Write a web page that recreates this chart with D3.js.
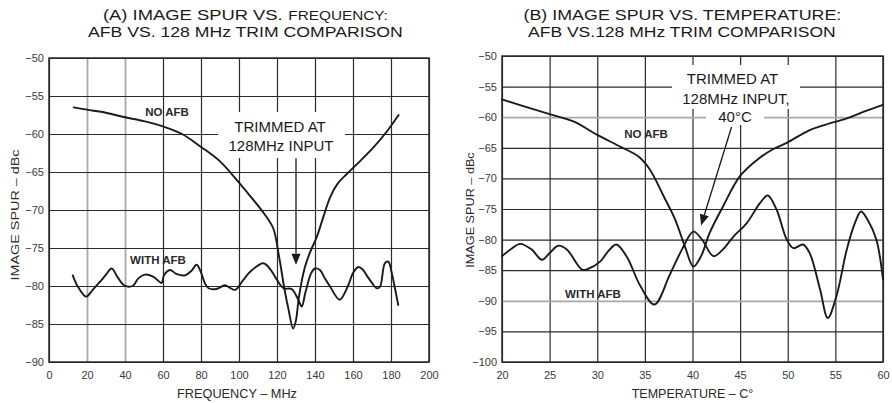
<!DOCTYPE html>
<html><head><meta charset="utf-8">
<script src="https://cdn.jsdelivr.net/npm/d3@7"></script>
<style>
html,body{margin:0;padding:0;background:#fff;}
svg{display:block;font-family:"Liberation Sans",Arial,Helvetica,sans-serif;}
</style></head>
<body>
<svg id="c" width="892" height="403"></svg>
<script>
// ---------- DATA ----------
// Chart A: image spur vs frequency (MHz, dBc)
const freqNoAfb = [[13,-56.5],[20,-56.8],[30,-57.2],[40,-57.8],[50,-58.3],[60,-59.0],[70,-60.0],[80,-61.7],[90,-63.6],[100,-66.4],[106,-68.2],[113,-70.4],[118,-72.4],[121,-76.0],[124,-80.5],[126,-83.0],[128.5,-85.6],[130,-84.5],[131.5,-81.5],[134.7,-77.5],[137.5,-75.5],[141,-73.5],[144.4,-70.9],[148,-68.3],[152,-66.5],[157,-65.2],[164,-63.5],[171,-61.7],[178,-59.6],[184,-57.5]];
const freqWithAfb = [[12.5,-78.6],[15,-80.0],[19.5,-81.4],[23,-80.5],[27,-79.4],[30,-78.5],[33,-77.7],[36,-78.8],[39.5,-79.9],[44,-80.0],[47,-79.0],[50.5,-78.5],[55,-78.8],[59.3,-79.6],[60.5,-78.6],[63.7,-77.9],[67,-78.4],[71.6,-78.6],[75,-78.0],[77.7,-77.2],[80,-78.2],[82,-79.6],[84,-80.3],[88,-80.4],[92.6,-79.9],[95,-80.2],[98,-80.5],[102,-79.3],[106,-78.1],[112.8,-77.0],[116.5,-77.8],[120,-79.2],[123.5,-80.3],[127.7,-80.4],[131.2,-81.8],[133,-82.7],[135,-80.8],[138,-78.3],[140,-77.7],[142.6,-77.9],[145,-78.9],[148,-80.1],[153,-81.8],[157.5,-79.9],[160,-78.3],[162.8,-77.5],[165,-77.8],[167.2,-78.6],[170,-79.6],[172.5,-80.3],[174.2,-80.1],[176.8,-77.0],[178.6,-76.8],[180.4,-78.3],[182,-80.2],[183.8,-82.5]];
const freqTicks = [0,20,40,60,80,100,120,140,160,180,200];
const freqGrayTicks = [20,40];
const spurTicksA = [-50,-55,-60,-65,-70,-75,-80,-85,-90];

// Chart B: image spur vs temperature (°C, dBc)
const tempNoAfb = [[20,-57.1],[22.5,-58.3],[25,-59.5],[27.5,-60.7],[30,-62.9],[32.4,-64.8],[34.3,-66.4],[35.5,-68.5],[37,-73.0],[38.2,-76.8],[39.2,-81.1],[40.1,-84.4],[40.9,-82.7],[41.8,-78.9],[43.2,-74.6],[45,-69.6],[47,-66.7],[48.5,-65.2],[49.9,-64.2],[52.3,-62.1],[54,-61.2],[56.2,-60.2],[58,-59.1],[60,-58.0]];
const tempWithAfb = [[20,-82.7],[21,-81.5],[21.9,-80.7],[23.1,-81.6],[24.2,-83.3],[25,-82.2],[25.9,-81.0],[26.8,-81.6],[28.4,-84.9],[29,-84.8],[30.3,-83.6],[31,-82.2],[32,-80.8],[33.1,-82.8],[34.5,-87.5],[36,-90.6],[37.6,-85.8],[38.9,-81.6],[40.1,-78.7],[41,-80.0],[42.2,-82.7],[43.2,-81.6],[44.3,-79.5],[45.7,-77.3],[47.1,-74.0],[47.9,-72.8],[48.8,-75.0],[49.9,-80.0],[50.6,-81.4],[51.6,-80.8],[52.3,-82.2],[53.4,-88.2],[54.2,-92.8],[55.1,-89.3],[56.2,-81.6],[57,-77.5],[57.7,-75.4],[58.4,-76.8],[59.3,-80.0],[60,-86.5]];
const tempTicks = [20,25,30,35,40,45,50,55,60];
const spurTicksB = [-50,-55,-60,-65,-70,-75,-80,-85,-90,-95,-100];
const spurGrayTicksB = [-60,-90];

// Text
const titleA1 = "(A) IMAGE SPUR VS.", titleA1b = "FREQUENCY:";
const titleA2 = "AFB VS. 128 MHz TRIM COMPARISON";
const titleB1 = "(B) IMAGE SPUR VS. TEMPERATURE:";
const titleB2 = "AFB VS.128 MHz TRIM COMPARISON";
const yTitle = "IMAGE SPUR – dBc";
const xTitleA = "FREQUENCY – MHz";
const xTitleB = "TEMPERATURE – C°";
const noteA = ["TRIMMED AT","128MHz INPUT"];
const noteB = ["TRIMMED AT","128MHz INPUT,","40°C"];
const arrowA = [[130,-63.2],[130,-77.2]];
const arrowB = [[44.1,-61.6],[40.9,-77.7]];

// ---------- DRAW ----------
const svg = d3.select("#c");
const DARK = "#2a2a2a", GRAY = "#a8a8a8", INK = "#1a1a1a", LBL = "#3a3a3a";

function bw(sel){ return sel.node().getBBox().width; }

function panel(o){
  const g = svg.append("g");
  const x = d3.scaleLinear().domain(o.xDom).range([o.x0, o.x1]);
  const y = d3.scaleLinear().domain(o.yDom).range([o.y1, o.y0]);
  const W = o.x1 - o.x0, H = o.y1 - o.y0;

  g.append("rect").attr("x",o.x0).attr("y",o.y0).attr("width",W).attr("height",H).attr("fill","#fff");

  const ax = g.append("g").attr("transform",`translate(0,${o.y1})`)
    .call(d3.axisBottom(x).tickValues(o.xTicks).tickSize(-H).tickPadding(9).tickFormat(d3.format("d")));
  const ay = g.append("g").attr("transform",`translate(${o.x0},0)`)
    .call(d3.axisLeft(y).tickValues(o.yTicks).tickSize(-W).tickPadding(5).tickFormat(d3.format("d")));
  [ax,ay].forEach(a=>{
    a.select(".domain").remove();
    a.selectAll("text").attr("fill",LBL).style("font-size","11px").style("font-family",'"Liberation Sans",Arial,sans-serif');
  });
  ax.selectAll(".tick line").attr("stroke",d=>o.xGray.includes(d)?GRAY:DARK).attr("stroke-width",d=>o.xGray.includes(d)?1.8:1.2);
  ay.selectAll(".tick line").attr("stroke",d=>o.yGray.includes(d)?GRAY:DARK).attr("stroke-width",d=>o.yGray.includes(d)?1.8:1.2);

  g.append("rect").attr("x",o.x0).attr("y",o.y0).attr("width",W).attr("height",H)
    .attr("fill","none").attr("stroke",DARK).attr("stroke-width",1.5);

  o.boxes.forEach(b=>{
    g.append("rect").attr("x",b[0]).attr("y",b[1]).attr("width",b[2]).attr("height",b[3]).attr("fill","#fff");
  });

  const line = d3.line().x(d=>x(d[0])).y(d=>y(d[1])).curve(d3.curveCatmullRom.alpha(0.5));
  o.series.forEach(s=>{
    g.append("path").datum(s).attr("d",line).attr("fill","none").attr("stroke",INK)
      .attr("stroke-width",1.9).attr("stroke-linejoin","round").attr("stroke-linecap","round");
  });

  const [p0,p1] = o.arrow.map(d=>[x(d[0]),y(d[1])]);
  const ang = Math.atan2(p1[1]-p0[1], p1[0]-p0[0]);
  const L = 11, Wd = 4.6;
  const bx = p1[0]-L*Math.cos(ang), by = p1[1]-L*Math.sin(ang);
  g.append("line").attr("x1",p0[0]).attr("y1",p0[1]).attr("x2",bx).attr("y2",by).attr("stroke",INK).attr("stroke-width",1.3);
  g.append("path").attr("d",`M${p1[0]},${p1[1]}L${bx+Wd*Math.sin(ang)},${by-Wd*Math.cos(ang)}L${bx-Wd*Math.sin(ang)},${by+Wd*Math.cos(ang)}Z`).attr("fill",INK);

  o.note.forEach((t,i)=>{
    g.append("text").attr("x",o.noteX[i]).attr("y",o.noteY[i]).attr("text-anchor","middle")
      .style("font-size","15px").attr("fill","#1a1a1a").text(t);
  });

  o.labels.forEach(l=>{
    g.append("text").attr("x",l[1]).attr("y",l[2]).attr("text-anchor","middle")
      .style("font-size","11.5px").style("font-weight","bold").attr("fill","#2a2a2a").text(l[0]);
  });

  const xt = g.append("text").attr("text-anchor","middle").style("font-size","12px").attr("fill","#2a2a2a").text(o.xTitle);
  xt.attr("transform",`translate(${o.xTitlePos[0]},${o.xTitlePos[1]}) scale(${o.xTitleW/bw(xt)},1)`);
  const yt = g.append("text").attr("text-anchor","middle").style("font-size","11px").attr("fill","#2a2a2a").text(yTitle);
  yt.attr("transform",`translate(${o.yTitlePos[0]},${o.yTitlePos[1]}) rotate(-90) scale(${o.yTitleW/bw(yt)},1)`);

  o.titles.forEach(t=>{
    const tg = g.append("g");
    const pieces = t.parts.map(p=>tg.append("text").attr("fill","#1a1a1a").style("font-size",p[1]+"px").text(p[0]));
    const gap = 4.5;
    const widths = pieces.map(bw);
    const total = d3.sum(widths) + gap*(pieces.length-1);
    let cx = -total/2;
    pieces.forEach((p,i)=>{ p.attr("x",cx); cx += widths[i] + gap; });
    tg.attr("transform",`translate(${t.cx},${t.y}) scale(${t.w/total},1)`);
  });
}

panel({
  xDom:[0,200], yDom:[-90,-50], x0:49, x1:429, y0:58, y1:362,
  xTicks:freqTicks, yTicks:spurTicksA, xGray:freqGrayTicks, yGray:[],
  series:[freqNoAfb, freqWithAfb],
  boxes:[[218,112,127,46]],
  arrow:arrowA,
  note:noteA, noteX:[280,281], noteY:[131.5,151],
  labels:[["NO AFB",167,115.5],["WITH AFB",158,263.5]],
  xTitle:xTitleA, xTitlePos:[237,398], xTitleW:120,
  yTitlePos:[18.5,215], yTitleW:132,
  titles:[{parts:[[titleA1,15],[titleA1b,12.5]],cx:245.5,y:19.5,w:285},
          {parts:[[titleA2,15]],cx:245.5,y:36.5,w:315}]
});

panel({
  xDom:[20,60], yDom:[-100,-50], x0:502, x1:883, y0:56, y1:362,
  xTicks:tempTicks, yTicks:spurTicksB, xGray:[], yGray:spurGrayTicksB,
  series:[tempNoAfb, tempWithAfb],
  boxes:[[672,65,128,44],[706,108,58,17]],
  arrow:arrowB,
  note:noteB, noteX:[732.5,736,735], noteY:[84.3,104.3,122.3],
  labels:[["NO AFB",646,138],["WITH AFB",593,297.5]],
  xTitle:xTitleB, xTitlePos:[692.5,398], xTitleW:122,
  yTitlePos:[474,210], yTitleW:116,
  titles:[{parts:[[titleB1,15]],cx:682.5,y:19.5,w:318},
          {parts:[[titleB2,15]],cx:682,y:36.5,w:308}]
});
</script>
</body></html>
